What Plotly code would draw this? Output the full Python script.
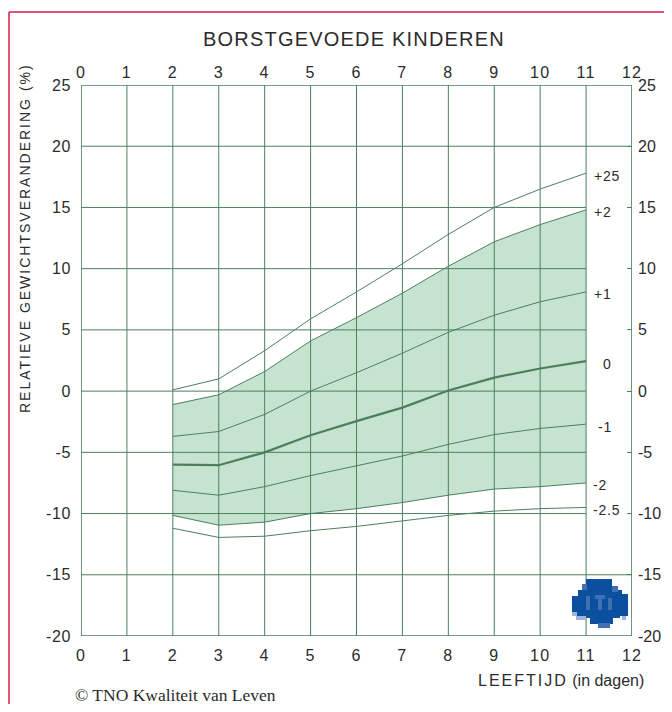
import plotly.graph_objects as go

# ---------------- data ----------------
ages = [2, 3, 4, 5, 6, 7, 8, 9, 10, 11]
sd_p25 = [0.1, 1.0, 3.3, 5.9, 8.1, 10.4, 12.8, 15.0, 16.5, 17.8]
sd_p2 = [-1.1, -0.3, 1.6, 4.1, 6.0, 8.0, 10.2, 12.2, 13.6, 14.8]
sd_p1 = [-3.7, -3.3, -1.9, 0.0, 1.5, 3.1, 4.8, 6.2, 7.3, 8.1]
sd_0 = [-6.0, -6.05, -5.0, -3.6, -2.45, -1.35, 0.05, 1.1, 1.85, 2.45]
sd_m1 = [-8.1, -8.5, -7.8, -6.9, -6.1, -5.3, -4.35, -3.55, -3.05, -2.7]
sd_m2 = [-10.15, -10.95, -10.7, -10.0, -9.6, -9.1, -8.5, -8.0, -7.8, -7.5]
sd_m25 = [-11.2, -11.95, -11.85, -11.4, -11.05, -10.6, -10.15, -9.8, -9.6, -9.5]
curve_labels = ["+25", "+2", "+1", "0", "-1", "-2", "-2.5"]

x_ticks = list(range(0, 13))
y_ticks = [25, 20, 15, 10, 5, 0, -5, -10, -15, -20]
y_ticktext = ["25", "20", "15", "10", "5", "0", "-5", "-10", "-15", "-20"]

title_text = "BORSTGEVOEDE KINDEREN"
ytitle_text = "RELATIEVE GEWICHTSVERANDERING (%)"
xtitle_main = "LEEFTIJD"
xtitle_unit = " (in dagen)"
copyright_text = "© TNO Kwaliteit van Leven"

# ---------------- style ----------------
GREEN = "#4b7f60"
FILL = "#c6e3d0"
RED = "#d41c4c"
TXT = "#2b2b2b"
FONT = "Liberation Sans"

OFF = 8  # page body margin
W, H = 664, 696
ML, MT = 73, 77
PW, PH = 551, 551
MR, MB = W - ML - PW, H - MT - PH


def px(xp):
    """reference-image x pixel -> paper coordinate"""
    return (xp - OFF - ML) / PW


def py(yp):
    """reference-image y pixel -> paper coordinate"""
    return (MT + PH - (yp - OFF)) / PH


def spaced(t, s):
    return '<span style="letter-spacing:%spx">%s</span>' % (s, t)


fig = go.Figure()

# shaded band between -2 and +2 SD
fig.add_trace(go.Scatter(x=ages, y=sd_m2, mode="lines", line=dict(width=0),
                         hoverinfo="skip", showlegend=False))
fig.add_trace(go.Scatter(x=ages, y=sd_p2, mode="lines", line=dict(width=0),
                         fill="tonexty", fillcolor=FILL, hoverinfo="skip",
                         showlegend=False))

series = [sd_p25, sd_p2, sd_p1, sd_0, sd_m1, sd_m2, sd_m25]
for s, lab in zip(series, curve_labels):
    fig.add_trace(go.Scatter(x=ages, y=s, mode="lines",
                             line=dict(color=GREEN, width=2.2 if lab == "0" else 1),
                             showlegend=False, name=lab))

# invisible trace to create top/right axes
fig.add_trace(go.Scatter(x=[0, 12], y=[-20, 25], xaxis="x2", yaxis="y2",
                         mode="markers", marker=dict(opacity=0),
                         hoverinfo="skip", showlegend=False))

shapes = []
# vertical grid lines
for xv in x_ticks[1:-1]:
    shapes.append(dict(type="line", xref="x", yref="y", x0=xv, x1=xv,
                       y0=-20, y1=25, line=dict(color=GREEN, width=1),
                       layer="above"))
# horizontal grid lines
for yv in y_ticks[1:-1]:
    x_end = 12 if yv in (20, -15) else 11
    shapes.append(dict(type="line", xref="x", yref="y", x0=0, x1=x_end,
                       y0=yv, y1=yv, line=dict(color=GREEN, width=1),
                       layer="above"))
# plot border
shapes.append(dict(type="rect", xref="x", yref="y", x0=0, x1=12, y0=-20, y1=25,
                   line=dict(color=GREEN, width=1.6), layer="above"))
# red frame (left and top)
shapes.append(dict(type="line", xref="paper", yref="paper", x0=px(9), x1=px(9),
                   y0=py(12), y1=py(H + 40), line=dict(color=RED, width=1.5)))
shapes.append(dict(type="line", xref="paper", yref="paper", x0=px(9), x1=px(W + 40),
                   y0=py(12), y1=py(12), line=dict(color=RED, width=1.5)))

# TNO logo (blocky blue emblem)
LOGO = "#0b4f9f"
LOGO_M = "#3f70b4"
LOGO_L = "#9db4dc"
logo_blocks = [
    (586, 579, 612, 592, LOGO), (578, 590, 622, 606, LOGO),
    (572, 596, 580, 612, LOGO), (620, 594, 628, 616, LOGO),
    (576, 604, 620, 618, LOGO), (590, 617, 613, 624, LOGO),
    (598, 623, 610, 628, LOGO_M), (582, 584, 587, 590, LOGO_M),
    (612, 586, 618, 592, LOGO_M), (572, 612, 577, 616, LOGO_L),
    (586, 596, 590, 610, LOGO_M), (595, 595, 605, 599, LOGO_M),
    (598, 599, 602, 610, LOGO_M), (608, 598, 612, 610, LOGO_M),
    (576, 616, 586, 620, LOGO_L), (622, 616, 626, 620, LOGO_L),
]
for x0, y0, x1, y1, c in logo_blocks:
    shapes.append(dict(type="rect", xref="paper", yref="paper",
                       x0=px(x0), x1=px(x1), y0=py(y1), y1=py(y0),
                       fillcolor=c, line=dict(width=0), layer="above"))

annotations = []
# curve labels at right end
label_x = {"+25": 11.15, "+2": 11.15, "+1": 11.15, "0": 11.35,
           "-1": 11.24, "-2": 11.13, "-2.5": 11.13}
for s, lab in zip(series, curve_labels):
    annotations.append(dict(x=label_x[lab], y=s[-1] - 0.2, xref="x", yref="y",
                            text=spaced(lab, 0.8), showarrow=False, xanchor="left",
                            yanchor="middle",
                            font=dict(family=FONT, size=14, color=TXT),
                            bgcolor="white" if lab == "-2.5" else None,
                            borderpad=0))

annotations.append(dict(x=px(354), y=py(39), xref="paper", yref="paper",
                        text=spaced(title_text, 1.2),
                        showarrow=False, xanchor="center", yanchor="middle",
                        font=dict(family=FONT, size=20, color=TXT)))
annotations.append(dict(x=px(25), y=py(238), xref="paper", yref="paper",
                        text=spaced(ytitle_text, 2),
                        showarrow=False, textangle=-90, xanchor="center",
                        yanchor="middle",
                        font=dict(family=FONT, size=14, color=TXT)))
annotations.append(dict(x=px(646), y=py(680), xref="paper", yref="paper",
                        text=spaced(xtitle_main, 2) + xtitle_unit,
                        showarrow=False, xanchor="right", yanchor="middle",
                        font=dict(family=FONT, size=16, color=TXT)))
annotations.append(dict(x=px(73), y=py(695), xref="paper", yref="paper",
                        text=copyright_text, showarrow=False, xanchor="left",
                        yanchor="middle",
                        font=dict(family="Liberation Serif", size=17.5, color=TXT)))

tickfont = dict(family=FONT, size=16, color=TXT)
rtickfont = dict(family=FONT, size=16, color=TXT)
x_ticktext = [spaced(str(v), 1.2) for v in x_ticks]
y_tt = [spaced(t, 0.6) for t in y_ticktext]
fig.update_layout(
    width=W, height=H,
    margin=dict(l=ML, r=MR, t=MT, b=MB, autoexpand=False),
    paper_bgcolor="white", plot_bgcolor="white",
    showlegend=False,
    xaxis=dict(range=[0, 12], tickvals=x_ticks, ticktext=x_ticktext,
               showgrid=False, zeroline=False, showline=False, ticks="",
               tickfont=tickfont, ticklabelstandoff=8, automargin=False),
    xaxis2=dict(range=[0, 12], overlaying="x", side="top", tickvals=x_ticks,
                ticktext=x_ticktext, showgrid=False,
                zeroline=False, showline=False, ticks="", tickfont=tickfont,
                ticklabelstandoff=3, automargin=False),
    yaxis=dict(range=[-20, 25], tickvals=y_ticks, ticktext=y_tt,
               showgrid=False, zeroline=False, showline=False, ticks="",
               tickfont=tickfont, ticklabelstandoff=9, automargin=False),
    yaxis2=dict(range=[-20, 25], overlaying="y", side="right", tickvals=y_ticks,
                ticktext=y_ticktext, showgrid=False, zeroline=False,
                showline=False, ticks="inside", ticklen=5, tickcolor=GREEN,
                tickfont=rtickfont, ticklabelstandoff=5, automargin=False),
    shapes=shapes,
    annotations=annotations,
)

fig.write_html("out.html")
